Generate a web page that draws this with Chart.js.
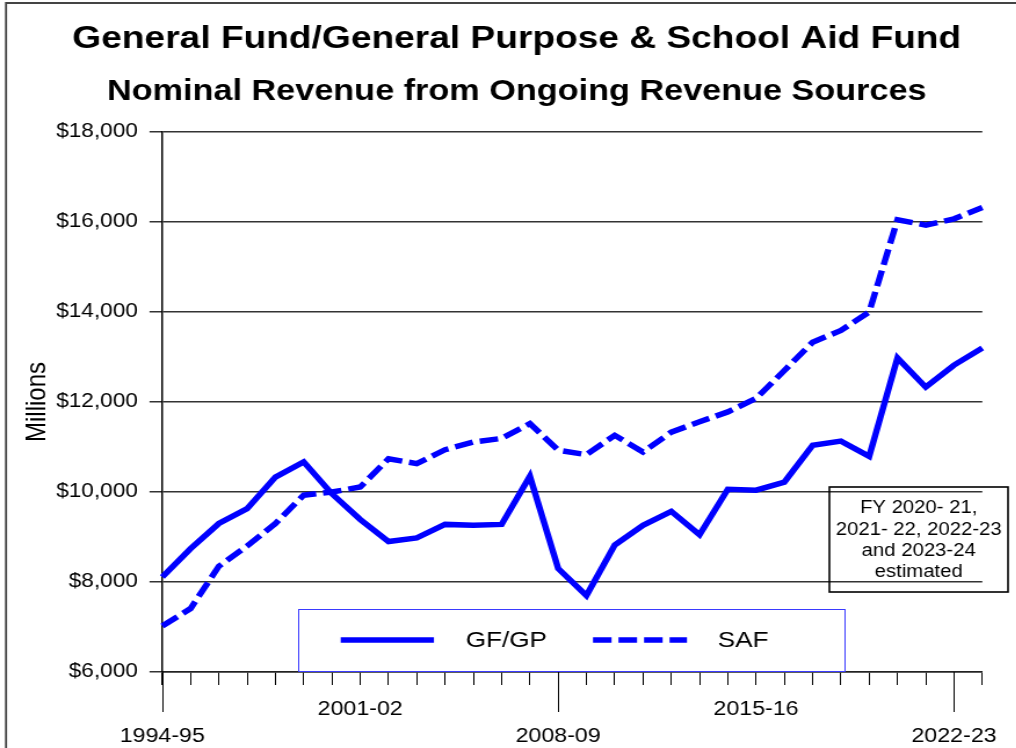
<!DOCTYPE html>
<html><head><meta charset="utf-8">
<script src="https://cdn.jsdelivr.net/npm/chart.js@4.4.1/dist/chart.umd.min.js"></script>
<style>
html,body{margin:0;padding:0;background:#fff;overflow:hidden;}
#wrap{width:876px;height:748px;transform:scaleX(1.16);transform-origin:0 0;}
canvas{display:block;}
</style></head><body>
<div id="wrap"><canvas id="c" width="876" height="748"></canvas></div>
<script>
const categories = ['1994-95','1995-96','1996-97','1997-98','1998-99','1999-00','2000-01','2001-02','2002-03','2003-04',
  '2004-05','2005-06','2006-07','2007-08','2008-09','2009-10','2010-11','2011-12','2012-13','2013-14',
  '2014-15','2015-16','2016-17','2017-18','2018-19','2019-20','2020-21','2021-22','2022-23','2023-24'];
const gfgpValues = [8110, 8740, 9300, 9630, 10330, 10670, 9960, 9390, 8900, 8980,
  9280, 9260, 9280, 10350, 8300, 7700, 8820, 9260, 9570, 9050,
  10060, 10040, 10220, 11040, 11130, 10790, 12980, 12330, 12820, 13200];
const safValues = [7020, 7410, 8350, 8800, 9300, 9930, 10000, 10110, 10740, 10630,
  10940, 11110, 11190, 11520, 10930, 10830, 11260, 10890, 11330, 11560,
  11780, 12080, 12700, 13330, 13590, 14000, 16050, 15930, 16070, 16320];
const yMin = 6000, yMax = 18000, yStep = 2000;
const highLabels = ['2001-02','2015-16'];
const lowLabels = ['1994-95','2008-09','2022-23'];
const titleText = 'General Fund/General Purpose & School Aid Fund';
const subtitleText = 'Nominal Revenue from Ongoing Revenue Sources';
const seriesNames = ['GF/GP','SAF'];
const noteLines = ['FY 2020- 21,','2021- 22, 2022-23','and 2023-24','estimated'];
const yTitle = 'Millions';

const FONT = "'Liberation Sans', Arial, sans-serif";
const BLUE = '#0000FF';

const framePlugin = {
  id: 'frame',
  afterDraw(chart) {
    const ctx = chart.ctx;
    ctx.save();
    ctx.strokeStyle = '#444';
    ctx.lineWidth = 1.8;
    ctx.beginPath();
    ctx.moveTo(5.2, 748); ctx.lineTo(5.2, 3); ctx.lineTo(876, 3);
    ctx.stroke();
    ctx.restore();
  }
};

const longTickPlugin = {
  id: 'longTicks',
  afterDraw(chart) {
    const xs = chart.scales.x, ctx = chart.ctx;
    ctx.save();
    ctx.strokeStyle = '#000';
    ctx.lineWidth = 1;
    lowLabels.forEach(l => {
      const i = categories.indexOf(l);
      const x = Math.round(xs.getPixelForValue(i)) + 0.5;
      ctx.beginPath();
      ctx.moveTo(x, xs.top);
      ctx.lineTo(x, xs.top + 40);
      ctx.stroke();
    });
    ctx.restore();
  }
};

const legendPlugin = {
  id: 'customLegend',
  afterDatasetsDraw(chart) {
    const ctx = chart.ctx;
    const ds = chart.data.datasets;
    ctx.save();
    ctx.fillStyle = '#fff';
    ctx.fillRect(257.5, 609.5, 471, 62);
    ctx.strokeStyle = '#3a3aff';
    ctx.lineWidth = 1;
    ctx.strokeRect(257.5, 609.5, 471, 62);
    const items = [{x0: 293.7, x1: 374.1, tx: 401.5}, {x0: 511.2, x1: 592.2, tx: 618.7}];
    items.forEach((it, k) => {
      const d = ds[k];
      ctx.strokeStyle = d.borderColor;
      ctx.lineWidth = d.borderWidth;
      ctx.lineCap = 'butt';
      ctx.setLineDash(d.borderDash || []);
      ctx.beginPath();
      ctx.moveTo(it.x0, 640); ctx.lineTo(it.x1, 640);
      ctx.stroke();
      ctx.setLineDash([]);
      ctx.fillStyle = '#000';
      ctx.font = '22.5px ' + FONT;
      ctx.textBaseline = 'middle';
      ctx.textAlign = 'left';
      ctx.fillText(d.label, it.tx, 641);
    });
    ctx.restore();
  }
};

const notePlugin = {
  id: 'note',
  afterDraw(chart) {
    const ctx = chart.ctx;
    ctx.save();
    ctx.strokeStyle = '#000';
    ctx.lineWidth = 1.6;
    ctx.strokeRect(715, 487, 154, 105);
    ctx.fillStyle = '#000';
    ctx.font = '17.5px ' + FONT;
    ctx.textAlign = 'center';
    ctx.textBaseline = 'middle';
    const ys = [508, 530, 551.5, 572.5];
    noteLines.forEach((t, i) => ctx.fillText(t, 792, ys[i]));
    ctx.restore();
  }
};

new Chart(document.getElementById('c'), {
  type: 'line',
  data: {
    labels: categories,
    datasets: [
      {label: seriesNames[0], data: gfgpValues, borderColor: BLUE, borderWidth: 5.5, pointRadius: 0, tension: 0, fill: false, borderJoinStyle: 'miter', borderCapStyle: 'butt'},
      {label: seriesNames[1], data: safValues, borderColor: BLUE, borderWidth: 5.5, borderDash: [16, 6], pointRadius: 0, tension: 0, fill: false, borderJoinStyle: 'miter', borderCapStyle: 'butt'}
    ]
  },
  options: {
    responsive: false,
    animation: false,
    devicePixelRatio: 1,
    layout: {padding: {left: 15, right: 0, top: 0, bottom: 0}},
    plugins: {
      legend: {display: false},
      tooltip: {enabled: false},
      title: {
        display: true,
        text: titleText,
        color: '#000',
        font: {family: FONT, size: 32, weight: 'bold', lineHeight: '40px'},
        padding: {top: 19, bottom: 0}
      },
      subtitle: {
        display: true,
        text: subtitleText,
        color: '#000',
        font: {family: FONT, size: 29.5, weight: 'bold', lineHeight: '36px'},
        padding: {top: 15.25, bottom: 21.75}
      }
    },
    scales: {
      x: {
        type: 'category',
        offset: false,
        grid: {drawOnChartArea: false, drawTicks: true, tickLength: 13, color: '#000', lineWidth: 1},
        border: {display: true, color: '#222', width: 1.5},
        ticks: {
          autoSkip: false, maxRotation: 0, minRotation: 0, padding: 10.5, color: '#000',
          font: {family: FONT, size: 20, lineHeight: '27px'},
          callback: function(v, i) {
            const l = categories[i];
            if (lowLabels.includes(l)) return ['', l];
            if (highLabels.includes(l)) return [l];
            return '';
          }
        },
        afterFit(scale) { scale.height = 76; }
      },
      y: {
        min: yMin, max: yMax,
        grid: {color: '#333', lineWidth: 1.5, tickLength: 11},
        border: {display: true, color: '#000', width: 1.5},
        ticks: {
          stepSize: yStep, padding: 10, color: '#000',
          font: {family: FONT, size: 19.5},
          callback: v => '$' + v.toLocaleString('en-US')
        },
        title: {display: true, text: yTitle, color: '#000', font: {family: FONT, size: 24, lineHeight: '24px'}, padding: {top: 4.9, bottom: 0}},
        afterFit(scale) { scale.width = 124.9; }
      },
      yRight: {
        position: 'right',
        display: true,
        min: yMin, max: yMax,
        grid: {display: false, drawTicks: false},
        border: {display: false},
        ticks: {display: false},
        afterFit(scale) { scale.width = 29.2; }
      }
    }
  },
  plugins: [legendPlugin, notePlugin, longTickPlugin, framePlugin]
});
</script>
</body></html>
